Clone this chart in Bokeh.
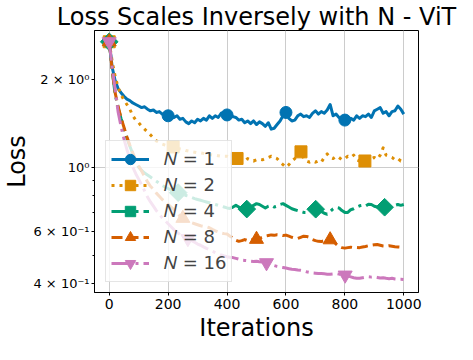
import numpy as np
from bokeh.plotting import figure
from bokeh.models import Range1d, FixedTicker, Legend, LegendItem, Title
from bokeh.embed import file_html
from bokeh.resources import INLINE

# ---------------- data ----------------
iters = list(range(0, 1001, 10))

loss_n1 = [2.69, 2.20, 1.98, 1.86, 1.80, 1.75, 1.71, 1.69, 1.66, 1.64,
           1.62, 1.60, 1.61, 1.58, 1.56, 1.57, 1.54, 1.55, 1.52, 1.53,
           1.50, 1.52, 1.48, 1.50, 1.46, 1.47, 1.43, 1.41, 1.44, 1.42,
           1.46, 1.44, 1.47, 1.45, 1.50, 1.47, 1.50, 1.48, 1.53, 1.54,
           1.51, 1.52, 1.49, 1.48, 1.45, 1.46, 1.42, 1.44, 1.41, 1.44,
           1.40, 1.43, 1.41, 1.38, 1.42, 1.35, 1.36, 1.40, 1.44, 1.50,
           1.54, 1.47, 1.44, 1.45, 1.50, 1.52, 1.49, 1.50, 1.48, 1.53,
           1.56, 1.52, 1.55, 1.53, 1.57, 1.64, 1.50, 1.52, 1.48, 1.46,
           1.45, 1.43, 1.47, 1.45, 1.50, 1.47, 1.50, 1.49, 1.52, 1.48,
           1.56, 1.58, 1.60, 1.53, 1.55, 1.50, 1.55, 1.56, 1.62, 1.58,
           1.52]

loss_n2 = [2.69, 2.30, 2.05, 1.88, 1.77, 1.70, 1.64, 1.58, 1.50, 1.45,
           1.42, 1.38, 1.35, 1.32, 1.29, 1.26, 1.23, 1.215, 1.20, 1.19,
           1.185, 1.18, 1.17, 1.16, 1.155, 1.15, 1.14, 1.135, 1.13, 1.125,
           1.12, 1.12, 1.115, 1.11, 1.105, 1.10, 1.10, 1.095, 1.09, 1.09,
           1.09, 1.08, 1.075, 1.065, 1.08, 1.06, 1.05, 1.07, 1.06, 1.05,
           1.06, 1.065, 1.06, 1.07, 1.08, 1.09, 1.08, 1.07, 1.04, 1.02,
           1.00, 1.02, 1.05, 1.07, 1.10, 1.135, 1.07, 1.05, 1.04, 1.05,
           1.04, 1.05, 1.04, 1.08, 1.11, 1.08, 1.07, 1.09, 1.08, 1.06,
           1.07, 1.09, 1.08, 1.10, 1.06, 1.05, 1.05, 1.05, 1.06, 1.07,
           1.08, 1.065, 1.10, 1.165, 1.10, 1.09, 1.08, 1.06, 1.07, 1.05,
           1.05]

loss_n4 = [2.69, 2.15, 1.78, 1.60, 1.47, 1.36, 1.26, 1.18, 1.11, 1.05,
           1.00, 0.975, 0.955, 0.94, 0.925, 0.91, 0.895, 0.88, 0.865, 0.855,
           0.845, 0.835, 0.825, 0.82, 0.815, 0.81, 0.80, 0.795, 0.787, 0.78,
           0.775, 0.77, 0.765, 0.76, 0.755, 0.75, 0.745, 0.74, 0.735, 0.73,
           0.725, 0.722, 0.73, 0.74, 0.73, 0.72, 0.715, 0.72, 0.73, 0.74,
           0.75, 0.745, 0.735, 0.725, 0.735, 0.74, 0.73, 0.735, 0.745, 0.75,
           0.74, 0.73, 0.72, 0.715, 0.71, 0.705, 0.70, 0.70, 0.71, 0.72,
           0.718, 0.715, 0.705, 0.695, 0.69, 0.705, 0.72, 0.728, 0.725, 0.71,
           0.70, 0.70, 0.715, 0.72, 0.73, 0.737, 0.74, 0.735, 0.746, 0.745,
           0.735, 0.73, 0.725, 0.728, 0.73, 0.725, 0.735, 0.74, 0.745, 0.74,
           0.745]

loss_n8 = [2.69, 2.15, 1.80, 1.62, 1.48, 1.37, 1.27, 1.19, 1.12, 1.06,
           1.01, 0.97, 0.93, 0.89, 0.86, 0.84, 0.815, 0.795, 0.775, 0.76,
           0.745, 0.73, 0.715, 0.70, 0.68, 0.668, 0.66, 0.652, 0.645, 0.64,
           0.635, 0.63, 0.627, 0.625, 0.62, 0.612, 0.605, 0.60, 0.595, 0.592,
           0.59, 0.58, 0.572, 0.562, 0.557, 0.56, 0.565, 0.56, 0.565, 0.564,
           0.566, 0.57, 0.575, 0.58, 0.583, 0.586, 0.584, 0.587, 0.586, 0.583,
           0.585, 0.58, 0.575, 0.571, 0.57, 0.575, 0.58, 0.579, 0.575, 0.565,
           0.56, 0.557, 0.556, 0.56, 0.565, 0.564, 0.56, 0.545, 0.535, 0.53,
           0.528, 0.53, 0.532, 0.53, 0.531, 0.53, 0.533, 0.535, 0.538, 0.54,
           0.542, 0.543, 0.54, 0.537, 0.536, 0.538, 0.536, 0.534, 0.533, 0.532,
           0.532]

loss_n16 = [2.69, 2.20, 1.85, 1.55, 1.38, 1.25, 1.15, 1.07, 1.00, 0.95,
            0.91, 0.87, 0.83, 0.79, 0.76, 0.735, 0.71, 0.69, 0.67, 0.655,
            0.64, 0.625, 0.61, 0.598, 0.588, 0.58, 0.573, 0.567, 0.56, 0.553,
            0.545, 0.54, 0.533, 0.527, 0.522, 0.515, 0.51, 0.505, 0.50, 0.496,
            0.493, 0.491, 0.49, 0.487, 0.484, 0.48, 0.479, 0.478, 0.476, 0.475,
            0.476, 0.474, 0.473, 0.472, 0.468, 0.463, 0.46, 0.457, 0.455, 0.453,
            0.451, 0.449, 0.447, 0.446, 0.444, 0.443, 0.441, 0.438, 0.436, 0.434,
            0.433, 0.432, 0.432, 0.431, 0.43, 0.43, 0.431, 0.432, 0.43, 0.428,
            0.427, 0.424, 0.421, 0.418, 0.416, 0.416, 0.418, 0.42, 0.421, 0.42,
            0.421, 0.419, 0.417, 0.418, 0.416, 0.415, 0.416, 0.414, 0.413, 0.413,
            0.412]

# iterations where each curve carries a marker
marks_n1 = [0, 200, 400, 600, 800]
marks_n2 = [0, 217, 434, 651, 868]
marks_n4 = [0, 234, 467, 701, 935]
marks_n8 = [0, 250, 500, 750]
marks_n16 = [0, 267, 534, 801]

labels = ["\U0001D441 = 1", "\U0001D441 = 2", "\U0001D441 = 4", "\U0001D441 = 8", "\U0001D441 = 16"]
x_ticks = [0, 200, 400, 600, 800, 1000]
y_ticks = [0.4, 0.6, 1, 2]
y_tick_labels = ["4 × 10⁻¹", "6 × 10⁻¹", "10⁰", "2 × 10⁰"]
y_minor = [0.5, 0.7, 0.8, 0.9]

# ---------------- figure ----------------
FONT = "DejaVu Sans"
p = figure(width=457, height=344, y_axis_type="log",
           x_range=Range1d(-50, 1050), y_range=Range1d(0.372, 2.94),
           output_backend="svg", toolbar_location=None,
           min_border_left=89, min_border_right=39,
           min_border_top=0, min_border_bottom=49,
           title="Loss Scales Inversely with N - ViT",
           background_fill_color="white", border_fill_color="white")
p.outline_line_color = "black"
p.outline_line_width = 1

p.title.text_font = FONT
p.title.text_font_size = "24px"
p.title.text_font_style = "normal"
p.title.text_color = "black"
p.title.align = "center"
p.title.standoff = 0
p.title.text_line_height = 0.9

styles = [
    (loss_n1, marks_n1, "#0173b2", "solid", "circle", 12, 0.0),
    (loss_n2, marks_n2, "#de8f05", "3 5", "square", 12, 0.0),
    (loss_n4, marks_n4, "#029e73", "19 5 3 5", "square", 12.5, np.pi / 4),
    (loss_n8, marks_n8, "#d55e00", "11 5", "triangle", 14, 0.0),
    (loss_n16, marks_n16, "#cc78bc", "19 5 3 5", "inverted_triangle", 14, 0.0),
]

items = []
for lab, (vals, marks, col, dash, mk, sz, ang) in zip(labels, styles):
    rl = p.line(iters, vals, line_color=col, line_width=3, line_dash=dash,
                line_join="round")
    my = list(np.interp(marks, iters, vals))
    rm = p.scatter(marks, my, marker=mk, size=sz, angle=ang,
                   fill_color=col, line_color=col)
    items.append(LegendItem(label=lab, renderers=[rl, rm]))

legend = Legend(items=items, location=(11, 10), margin=0, padding=5,
                spacing=0, glyph_width=38, glyph_height=26, label_height=26,
                label_standoff=15, label_text_font=FONT,
                label_text_font_size="18px", label_text_baseline="middle",
                border_line_color="#cccccc", border_line_width=1,
                background_fill_color="white", background_fill_alpha=0.8)
p.add_layout(legend)

# axes
p.xaxis.ticker = FixedTicker(ticks=x_ticks)
p.yaxis.ticker = FixedTicker(ticks=y_ticks, minor_ticks=y_minor)
p.yaxis.major_label_overrides = {t: l for t, l in zip(y_ticks, y_tick_labels)}
for ax in (p.xaxis[0], p.yaxis[0]):
    ax.major_label_text_font = FONT
    ax.major_label_text_color = "black"
    ax.axis_label_text_font = FONT
    ax.axis_label_text_font_size = "24px"
    ax.axis_label_text_font_style = "normal"
    ax.axis_label_text_color = "black"
    ax.axis_line_color = "black"
    ax.major_tick_line_color = "black"
    ax.minor_tick_line_color = "black"
    ax.major_tick_in = 0
    ax.major_tick_out = 3
    ax.minor_tick_in = 0
    ax.minor_tick_out = 2
    ax.major_label_standoff = 2
p.xaxis.major_label_text_font_size = "14px"
p.yaxis.major_label_text_font_size = "13px"
p.xaxis.major_label_standoff = 3
p.xaxis.axis_label_standoff = 2
p.xaxis.axis_label = "Iterations"

# y-axis label as a side title, so the frame keeps its place
ytitle = Title(text="Loss", align="center", text_font=FONT,
               text_font_size="24px", text_font_style="normal",
               text_color="black", standoff=0, text_line_height=0.75)
p.add_layout(ytitle, "left")

p.xgrid.ticker = FixedTicker(ticks=x_ticks)
p.ygrid.ticker = FixedTicker(ticks=[1])
p.xgrid.grid_line_color = "#cccccc"
p.ygrid.grid_line_color = "#cccccc"
p.xgrid.grid_line_width = 1
p.ygrid.grid_line_width = 1

open("out.html", "w").write(file_html(p, INLINE))
